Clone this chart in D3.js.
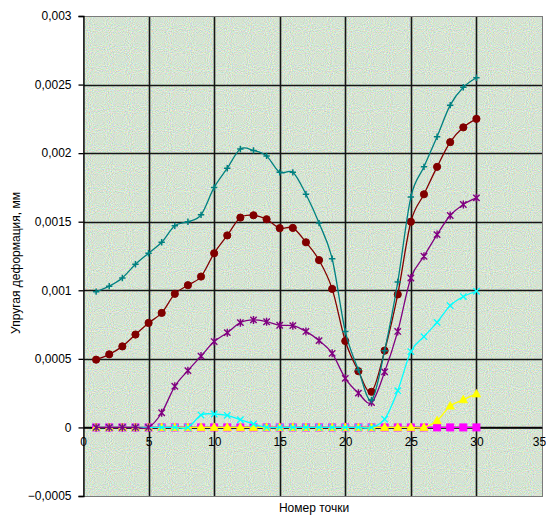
<!DOCTYPE html>
<html><head><meta charset="utf-8">
<script src="https://cdn.jsdelivr.net/npm/d3@7"></script>
<style>
html,body{margin:0;padding:0;background:#fff;}
svg{display:block;font-family:"Liberation Sans",Arial,sans-serif;}
</style></head>
<body>
<svg id="chart" width="546" height="520"></svg>
<script>
// ---- data ----
const points = [1,2,3,4,5,6,7,8,9,10,11,12,13,14,15,16,17,18,19,20,21,22,23,24,25,26,27,28,29,30];
const magentaVals = [0,0,0,0,0,0,0,0,0,0,0,0,0,0,0,0,0,0,0,0,0,0,0,0,0,0,0,0,0,0];
const yellowVals  = [0,0,0,0,0,0,0,0,0,0,0,0,0,0,0,0,0,0,0,0,0,0,0,0,0,0,0.000049,0.000156,0.000202,0.000244];
const cyanVals    = [0,0,0,0,0,0,0,0,0.00009,0.000098,0.000088,0.000056,0.000025,0,0,0,0,0,0,0,0,0,0.00006,0.000268,0.000553,0.000662,0.000766,0.000888,0.000954,0.000993];
const purpleVals  = [0,0,0,0,0,0.000107,0.0003,0.000414,0.00052,0.000626,0.000691,0.000764,0.000784,0.000771,0.000745,0.000742,0.0007,0.000633,0.00054,0.000358,0.00025,0.000182,0.000405,0.0007,0.00109,0.001248,0.001406,0.001545,0.001626,0.001674];
const maroonVals  = [0.000494,0.000533,0.000591,0.000677,0.000762,0.000835,0.000974,0.001037,0.0011,0.00127,0.0014,0.00153,0.001547,0.001518,0.001453,0.001455,0.00135,0.00122,0.00101,0.00063,0.00041,0.00026,0.00056,0.00097,0.0015,0.0017,0.0019,0.00208,0.002188,0.00225];
const tealVals    = [0.00099,0.00103,0.00109,0.00119,0.00127,0.00135,0.00147,0.0015,0.00155,0.00175,0.00189,0.00203,0.00202,0.00198,0.00186,0.00186,0.0017,0.00149,0.00123,0.0007,0.00042,0.0002,0.00056,0.00106,0.00168,0.0019,0.00212,0.00235,0.00248,0.00255];

const xTicks = [0,5,10,15,20,25,30,35];
const xTickLabels = ["0","5","10","15","20","25","30","35"];
const yTicks = [-0.0005,0,0.0005,0.001,0.0015,0.002,0.0025,0.003];
const yTickLabels = ["\u22120,0005","0","0,0005","0,001","0,0015","0,002","0,0025","0,003"];
const xTitle = "Номер точки";
const yTitle = "Упругая деформация, мм";

const series = [
  {name:"s2", values: magentaVals, color:"#FF00FF", marker:"square"},
  {name:"s3", values: yellowVals,  color:"#FFFF00", marker:"triangle"},
  {name:"s4", values: cyanVals,    color:"#00FFFF", marker:"x"},
  {name:"s5", values: purpleVals,  color:"#800080", marker:"star"},
  {name:"s6", values: maroonVals,  color:"#800000", marker:"circle"},
  {name:"s7", values: tealVals,    color:"#008080", marker:"plus"}
];

// ---- layout ----
const svg = d3.select("#chart");
const L = 83, R = 542, T = 16, B = 496;
const x = d3.scaleLinear().domain([0,35]).range([L,R]);
const y = d3.scaleLinear().domain([-0.0005,0.003]).range([B,T]);

// background noise filter
const defs = svg.append("defs");
const f = defs.append("filter").attr("id","noise")
  .attr("x",0).attr("y",0).attr("width","100%").attr("height","100%")
  .attr("color-interpolation-filters","sRGB");
f.append("feTurbulence").attr("type","fractalNoise").attr("baseFrequency","0.95")
  .attr("numOctaves",1).attr("seed",7).attr("result","t");
f.append("feColorMatrix").attr("in","t").attr("type","matrix")
  .attr("values","0.5 0 0 0 0.585  0 0.38 0 0 0.7  0 0 0.5 0 0.575  0 0 0 0 1");

svg.append("rect").attr("x",L).attr("y",T).attr("width",R-L).attr("height",B-T)
  .attr("fill","#c2d5c8");
svg.append("rect").attr("x",L).attr("y",T).attr("width",R-L).attr("height",B-T)
  .attr("filter","url(#noise)");

// gridlines
const grid = svg.append("g").attr("stroke","#151515").attr("stroke-width",1.6);
xTicks.slice(1,-1).forEach(t=>{
  grid.append("line").attr("x1",Math.round(x(t))+0.5).attr("x2",Math.round(x(t))+0.5).attr("y1",T).attr("y2",B);
});
yTicks.slice(1,-1).forEach(t=>{
  grid.append("line").attr("x1",L).attr("x2",R).attr("y1",Math.round(y(t))+0.5).attr("y2",Math.round(y(t))+0.5);
});

// plot border (grey) top/right/bottom
svg.append("rect").attr("x",L+0.5).attr("y",T+0.5).attr("width",R-L).attr("height",B-T)
  .attr("fill","none").attr("stroke","#7a7a7a").attr("stroke-width",1).attr("shape-rendering","crispEdges");

// y axis
const yAxis = d3.axisLeft(y).tickValues(yTicks).tickSize(5).tickPadding(7)
  .tickFormat((d,i)=>yTickLabels[i]);
const gy = svg.append("g").attr("transform",`translate(${L+0.5},0)`).call(yAxis);
gy.select(".domain").attr("stroke","#000").attr("stroke-width",1.3);
gy.selectAll(".tick line").attr("stroke","#000").attr("stroke-width",1.3);
gy.selectAll("text").attr("font-size",12).attr("fill","#000")
  .attr("font-family","'Liberation Sans',Arial,sans-serif");

// x axis at y=0
const xAxis = d3.axisBottom(x).tickValues(xTicks).tickSize(0).tickPadding(10)
  .tickFormat((d,i)=>xTickLabels[i]);
const gx = svg.append("g").attr("transform",`translate(0,${Math.round(y(0))+0.5})`).call(xAxis);
gx.select(".domain").attr("stroke","#000").attr("stroke-width",1.6);
gx.selectAll("text").attr("font-size",12).attr("fill","#000")
  .attr("font-family","'Liberation Sans',Arial,sans-serif")
  .attr("dx",(d,i)=> i===xTicks.length-1 ? -3 : 0);

// titles
svg.append("text").attr("x",314).attr("y",512).attr("text-anchor","middle")
  .attr("font-size",12).text(xTitle);
svg.append("text").attr("transform","translate(20,263) rotate(-90)").attr("text-anchor","middle")
  .attr("font-size",12).text(yTitle);

// series
const line = d3.line().x((d,i)=>x(points[i])).y(d=>y(d)).curve(d3.curveCardinal.tension(0));
const plot = svg.append("g");

function drawMarker(g, type, cx, cy, color){
  const s = 3.2;
  if(type==="square"){
    g.append("rect").attr("x",cx-3.5).attr("y",cy-3.5).attr("width",7).attr("height",7)
      .attr("fill",color).attr("stroke",color);
  } else if(type==="triangle"){
    g.append("path").attr("d",`M${cx},${cy-4.5}L${cx+4.2},${cy+3}L${cx-4.2},${cy+3}Z`)
      .attr("fill",color).attr("stroke",color).attr("stroke-width",0.8);
  } else if(type==="circle"){
    g.append("circle").attr("cx",cx).attr("cy",cy).attr("r",3.6).attr("fill",color).attr("stroke",color);
  } else if(type==="x"){
    g.append("path").attr("d",`M${cx-s},${cy-s}L${cx+s},${cy+s}M${cx-s},${cy+s}L${cx+s},${cy-s}`)
      .attr("stroke",color).attr("stroke-width",1.3).attr("fill","none");
  } else if(type==="star"){
    g.append("path").attr("d",`M${cx-s},${cy-s}L${cx+s},${cy+s}M${cx-s},${cy+s}L${cx+s},${cy-s}M${cx},${cy-s-0.8}L${cx},${cy+s+0.8}`)
      .attr("stroke",color).attr("stroke-width",1.4).attr("fill","none");
  } else if(type==="plus"){
    g.append("path").attr("d",`M${cx-s},${cy}L${cx+s},${cy}M${cx},${cy-s}L${cx},${cy+s}`)
      .attr("stroke",color).attr("stroke-width",1.5).attr("fill","none");
  }
}

series.forEach(s=>{
  const g = plot.append("g");
  g.append("path").datum(s.values).attr("d",line).attr("fill","none")
    .attr("stroke",s.color).attr("stroke-width",1.3);
  s.values.forEach((v,i)=>drawMarker(g, s.marker, x(points[i]), y(v), s.color));
});
</script>
</body></html>
